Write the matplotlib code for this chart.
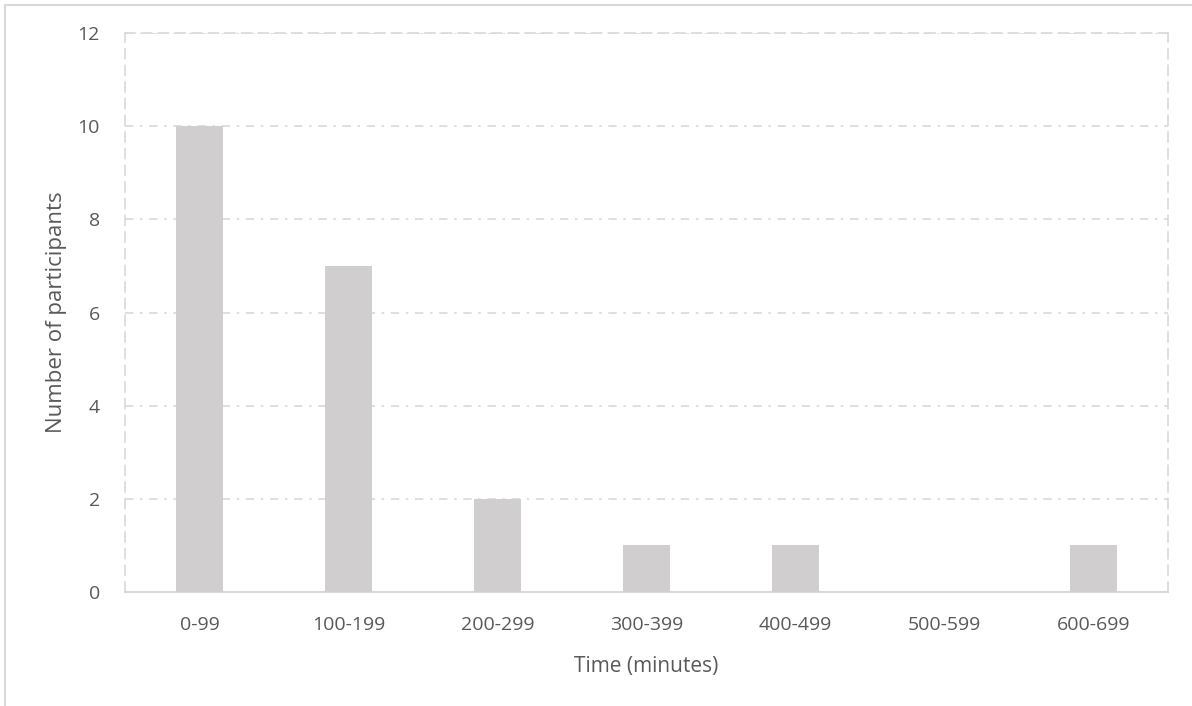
import matplotlib.pyplot as plt
from matplotlib.patches import Rectangle

# histogram of session length
categories = ["0-99", "100-199", "200-299", "300-399", "400-499", "500-599", "600-699"]
participants = [10, 7, 2, 1, 1, 0, 1]
y_ticks = [0, 2, 4, 6, 8, 10, 12]

text_color = "#595959"
grid_color = "#D9D9D9"
bar_color = "#D0CECE"

plt.rcParams['font.family'] = ['Open Sans', 'DejaVu Sans']

fig = plt.figure(figsize=(11.92, 7.06), dpi=100)
ax = fig.add_axes([125 / 1192, 1 - 592 / 706, (1168 - 125) / 1192, (592 - 33) / 706])

# outer chart frame, only left and top edges fall inside the picture
fig.patches.append(Rectangle((5 / 1192, -0.1), 1.2, 1 - 5 / 706 + 0.1,
                             transform=fig.transFigure, fill=False,
                             edgecolor=grid_color, linewidth=1.5, zorder=0))

x = range(len(categories))
ax.bar(x, participants, width=0.31, color=bar_color, zorder=3)

ax.set_xlim(-0.5, len(categories) - 0.5)
ax.set_ylim(0, 12)
ax.set_yticks(y_ticks)
ax.set_xticks(list(x))
ax.set_xticklabels(categories)

for y in y_ticks[1:]:
    ax.axhline(y, color=grid_color, linewidth=1.2, linestyle=(0, (5, 4, 1.5, 4)), zorder=1)

for side in ["left", "right", "top"]:
    ax.spines[side].set_color(grid_color)
    ax.spines[side].set_linestyle((0, (6, 4)))
    ax.spines[side].set_linewidth(1.2)
ax.spines["bottom"].set_color(grid_color)
ax.spines["bottom"].set_linewidth(1.5)

ax.tick_params(axis="both", length=0, labelsize=14, colors=text_color)
ax.tick_params(axis="x", pad=17)
ax.tick_params(axis="y", pad=18)

ax.set_xlabel("Time (minutes)", fontsize=15, color=text_color, labelpad=16)
ax.set_ylabel("Number of participants", fontsize=16, color=text_color, labelpad=8)

fig.savefig("out.png", dpi=100)
